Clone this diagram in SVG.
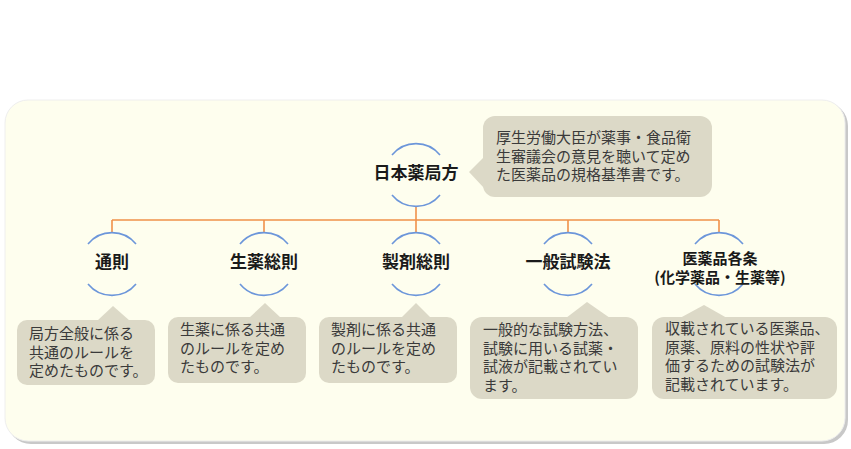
<svg xmlns="http://www.w3.org/2000/svg" width="851" height="449" viewBox="0 0 851 449">
<defs>
<style>
.node{font-family:"Noto Sans CJK JP","Noto Sans",sans-serif;font-weight:bold;fill:#1a1a1a;text-anchor:middle}
.arc{fill:none;stroke:#6C96DA;stroke-width:1.6}
.conn{fill:none;stroke:#F0914A;stroke-width:1.6}
.callout{fill:#DCD9C7}
.note{font-family:"Noto Sans CJK JP","Noto Sans",sans-serif;font-size:15px;fill:#3a3a3a}
</style>
</defs>
<rect x="0" y="0" width="851" height="449" fill="#ffffff"/>
<g id="panel">
<rect x="7" y="102" width="841" height="342" rx="24" fill="#C8C8C8"/>
<rect x="5" y="100" width="840" height="341" rx="23" fill="#FEFEEE" stroke="#EEEEEE" stroke-width="1"/>
</g>
<g id="connectors">
<path class="conn" d="M416 206 V220 M112 220 H719 M112 220 V233 M264 220 V233 M416 220 V233 M568 220 V233 M719 220 V233"/>
</g>
<g id="node-root">
<path class="arc" d="M392 155 A31 31 0 0 1 440 155 M392 195 A31 31 0 0 0 440 195"/>
<text class="node" x="416" y="178.5" font-size="17">日本薬局方</text>
</g>
<g id="note-root">
<rect class="callout" x="483" y="116" width="229" height="81" rx="12"/>
<polygon class="callout" points="484,157 469,172 484,188"/>
<text class="note"><tspan x="496" y="143">厚生労働大臣が薬事・食品衛</tspan><tspan x="496" y="161.5">生審議会の意見を聴いて定め</tspan><tspan x="496" y="180">た医薬品の規格基準書です。</tspan></text>
</g>
<g id="node-1">
<path class="arc" d="M88 244 A31 31 0 0 1 136 244 M88 284 A31 31 0 0 0 136 284"/>
<text class="node" x="112" y="268" font-size="17">通則</text>
</g>
<g id="note-1">
<rect class="callout" x="17" y="320" width="138" height="65" rx="10"/>
<polygon class="callout" points="97,321 113,306 130,321"/>
<text class="note"><tspan x="29" y="339">局方全般に係る</tspan><tspan x="29" y="357.5">共通のルールを</tspan><tspan x="29" y="376">定めたものです。</tspan></text>
</g>
<g id="node-2">
<path class="arc" d="M240 244 A31 31 0 0 1 288 244 M240 284 A31 31 0 0 0 288 284"/>
<text class="node" x="264" y="268" font-size="17">生薬総則</text>
</g>
<g id="note-2">
<rect class="callout" x="168" y="317" width="138" height="66" rx="10"/>
<polygon class="callout" points="249,318 265,303 281,318"/>
<text class="note"><tspan x="180" y="335">生薬に係る共通</tspan><tspan x="180" y="353.5">のルールを定め</tspan><tspan x="180" y="372">たものです。</tspan></text>
</g>
<g id="node-3">
<path class="arc" d="M392 244 A31 31 0 0 1 440 244 M392 284 A31 31 0 0 0 440 284"/>
<text class="node" x="416" y="268" font-size="17">製剤総則</text>
</g>
<g id="note-3">
<rect class="callout" x="319" y="317" width="138" height="66" rx="10"/>
<polygon class="callout" points="401,318 416,303 431,318"/>
<text class="note"><tspan x="331" y="335">製剤に係る共通</tspan><tspan x="331" y="353.5">のルールを定め</tspan><tspan x="331" y="372">たものです。</tspan></text>
</g>
<g id="node-4">
<path class="arc" d="M544 244 A31 31 0 0 1 592 244 M544 284 A31 31 0 0 0 592 284"/>
<text class="node" x="568" y="268" font-size="17">一般試験法</text>
</g>
<g id="note-4">
<rect class="callout" x="470" y="317" width="168" height="82" rx="12"/>
<polygon class="callout" points="566,318 587,302 610,318"/>
<text class="note"><tspan x="483" y="335">一般的な試験方法、</tspan><tspan x="483" y="353.5">試験に用いる試薬・</tspan><tspan x="483" y="372">試液が記載されてい</tspan><tspan x="483" y="390.5">ます。</tspan></text>
</g>
<g id="node-5">
<path class="arc" d="M695 244 A31 31 0 0 1 743 244 M695 284 A31 31 0 0 0 743 284"/>
<text class="node" font-size="15"><tspan x="720" y="263.5">医薬品各条</tspan><tspan x="720" y="282.5">(化学薬品・生薬等)</tspan></text>
</g>
<g id="note-5">
<rect class="callout" x="652" y="317" width="185" height="82" rx="12"/>
<polygon class="callout" points="680,318 704,305 727,318"/>
<text class="note"><tspan x="665" y="334">収載されている医薬品、</tspan><tspan x="665" y="352.5">原薬、原料の性状や評</tspan><tspan x="665" y="371">価するための試験法が</tspan><tspan x="665" y="389.5">記載されています。</tspan></text>
</g>
</svg>
